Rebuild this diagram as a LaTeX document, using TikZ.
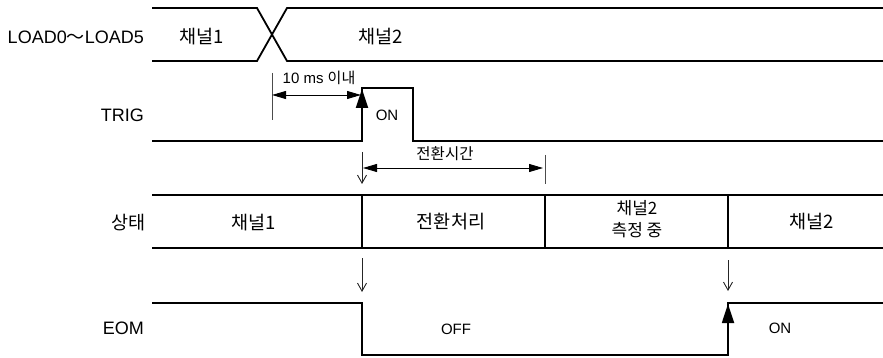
\documentclass[tikz,border=0pt]{standalone}
\usepackage{fontspec}
\setmainfont{Liberation Sans}
\newfontfamily\kr{Noto Sans CJK KR}
\usetikzlibrary{arrows.meta}
\tikzset{
  sig/.style={line width=1.8pt, line join=miter},
  dim/.style={line width=0.9pt},
  dimarrow/.style={dim, {Triangle[length=14pt,width=8pt]}-{Triangle[length=14pt,width=8pt]}},
  downarrow/.style={line width=0.9pt, black!85, -{Straight Barb[length=8pt,width=9pt]}},
  rise/.style={line width=1.8pt, -{Triangle[length=19pt,width=12pt]}},
  lab/.style={font=\fontsize{18pt}{20pt}\selectfont, inner sep=0pt, anchor=east},
  big/.style={font=\kr\fontsize{18.5pt}{22pt}\selectfont, inner sep=0pt, align=center},
  small/.style={font=\fontsize{15pt}{17pt}\selectfont, inner sep=0pt},
  smallkr/.style={font=\kr\fontsize{15.5pt}{17pt}\selectfont, inner sep=0pt}
}
\begin{document}
\begin{tikzpicture}[x=1pt,y=-1pt]
\useasboundingbox (0,0) rectangle (883,358);

% row labels
\node[lab] (lload) at (144,37) {LOAD0{\kr ～}LOAD5};
\node[lab] (ltrig) at (144,115) {TRIG};
\node[lab, font=\kr\fontsize{18.5pt}{20pt}\selectfont] (lstate) at (146,223) {상태};
\node[lab] (leom) at (144,328) {EOM};

% LOAD signal
\draw[sig] (152,8) -- (257,8) -- (287,61) -- (883,61);
\draw[sig] (152,61) -- (257,61) -- (287,8) -- (883,8);
\node[big] (ch1a) at (202,37) {채널1};
\node[big] (ch2a) at (381,37) {채널2};

% TRIG signal
\draw[sig] (152,141) -- (362,141) -- (362,88) -- (413,88) -- (413,141) -- (883,141);
\draw[rise] (362,112) -- (362,89);
\node[small] (on1) at (387,115) {ON};

% 10 ms
\draw[dim, black!70] (272,73) -- (272,120);
\draw[dimarrow] (272,95) -- (361,95);
\node[small] (t10) at (319,78) {10 ms {\kr 이내}};

% switching time
\draw[downarrow] (362,152) -- (362,184);
\draw[dim, black!70] (545,155) -- (545,184);
\draw[dimarrow] (363,168) -- (543,168);
\node[smallkr] (tsw) at (445,154) {전환시간};

% state row
\draw[sig] (152,195) -- (883,195);
\draw[sig] (152,248) -- (883,248);
\draw[sig] (362,195) -- (362,248);
\draw[sig] (545,195) -- (545,248);
\draw[sig] (728,195) -- (728,248);
\node[big] (s1) at (254,223) {채널1};
\node[big] (s2) at (451,222) {전환처리};
\node[big, font=\kr\fontsize{17pt}{22pt}\selectfont] (s3) at (637,219) {채널2\\측정 중};
\node[big] (s4) at (812,222) {채널2};

% arrows to EOM
\draw[downarrow] (362,258) -- (362,292);
\draw[downarrow] (728,260) -- (728,291);

% EOM signal
\draw[sig] (152,303) -- (362,303) -- (362,355) -- (728,355) -- (728,303) -- (883,303);
\draw[rise] (728,326) -- (728,304);
\node[small] (off) at (456,329) {OFF};
\node[small] (on2) at (780,328) {ON};
\end{tikzpicture}
\end{document}
